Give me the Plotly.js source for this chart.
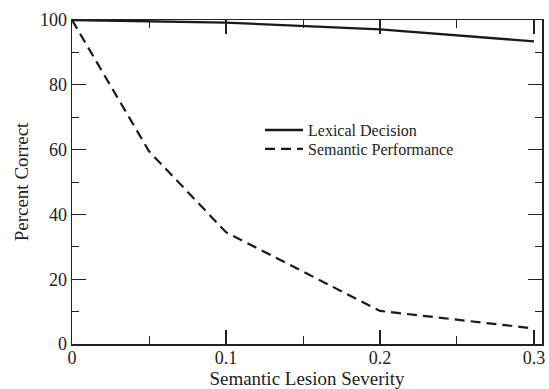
<!DOCTYPE html>
<html>
<head>
<meta charset="utf-8">
<script src="https://cdn.plot.ly/plotly-3.0.1.min.js"></script>
<style>html,body{margin:0;padding:0;background:#fff;}#chart{width:549px;height:389px;}</style>
</head>
<body>
<div id="chart"></div>
<script>
const severity = [0, 0.05, 0.1, 0.2, 0.3];
const lexicalDecision = [100, 99.7, 99.2, 97.1, 93.4];
const semanticPerformance = [100, 59.5, 34.5, 10.2, 4.8];
const seriesNames = ["Lexical Decision", "Semantic Performance"];
const xTickVals = [0, 0.1, 0.2, 0.3];
const xTickText = ["0", "0.1", "0.2", "0.3"];
const yTickVals = [0, 20, 40, 60, 80, 100];

const font = "Liberation Serif, Times New Roman, serif";
const traces = [
  {x: severity, y: lexicalDecision, name: seriesNames[0], mode: "lines", legend: "legend",
   line: {color: "#1a1a1a", width: 2.4}},
  {x: severity, y: semanticPerformance, name: seriesNames[1], mode: "lines", legend: "legend2",
   line: {color: "#1a1a1a", width: 2.2, dash: "10px,6px"}}
];
const axisCommon = {
  showline: true, linecolor: "#222", linewidth: 1.5, mirror: "allticks",
  ticks: "inside", ticklen: 14, tickwidth: 1.2, tickcolor: "#222",
  showgrid: false, zeroline: false,
  tickfont: {family: font, size: 18, color: "#222"}
};
const legendCommon = {
  xanchor: "left", yanchor: "middle", bgcolor: "rgba(0,0,0,0)",
  font: {family: font, size: 16, color: "#222"}, itemwidth: 38
};
const layout = {
  width: 549, height: 389,
  margin: {l: 72, r: 7, t: 20, b: 45},
  paper_bgcolor: "#fff", plot_bgcolor: "#fff",
  font: {family: font, color: "#222"},
  showlegend: true,
  legend: Object.assign({}, legendCommon, {x: 0.4, y: 0.66}),
  legend2: Object.assign({}, legendCommon, {x: 0.4, y: 0.602}),
  xaxis: Object.assign({}, axisCommon, {
    range: [0, 0.3052], tickvals: xTickVals, ticktext: xTickText, ticklabelstandoff: -3,
    minor: {dtick: 0.05, tick0: 0, ticks: "inside", ticklen: 8, tickwidth: 1, tickcolor: "#222"},
    title: {text: "Semantic Lesion Severity", font: {family: font, size: 19, color: "#222"}, standoff: 6}
  }),
  yaxis: Object.assign({}, axisCommon, {
    range: [0, 100], tickvals: yTickVals,
    minor: {dtick: 10, tick0: 0, ticks: "inside", ticklen: 7, tickwidth: 1, tickcolor: "#222"},
    title: {text: "Percent Correct", font: {family: font, size: 19, color: "#222"}, standoff: 6}
  })
};
Plotly.newPlot("chart", traces, layout, {staticPlot: true, displayModeBar: false});
</script>
</body>
</html>
